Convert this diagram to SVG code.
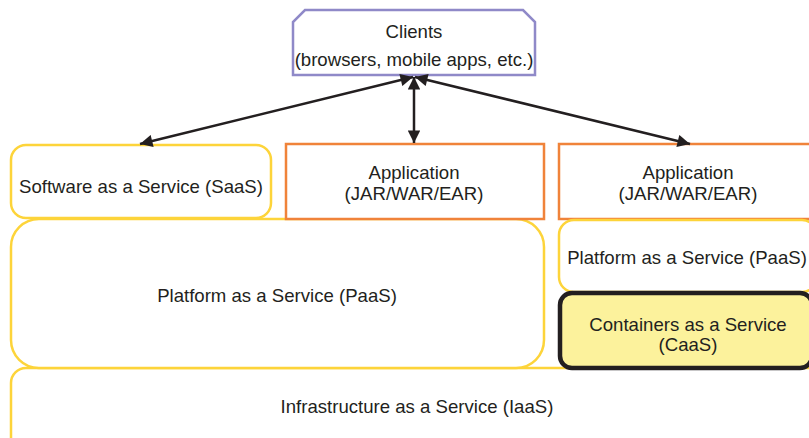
<svg xmlns="http://www.w3.org/2000/svg" width="809" height="438" viewBox="0 0 809 438">
  <style>
    .lbl { font-family: "Liberation Sans", Arial, sans-serif; font-size: 18.6px; fill: #231F20; text-anchor: middle; }
    .yel { fill: #FFFFFF; stroke: #FDD43A; stroke-width: 2.5; }
    .org { fill: #FFFFFF; stroke: #F0833A; stroke-width: 2.5; }
    .cli { fill: #FFFFFF; stroke: #8F89C8; stroke-width: 2.5; }
    .caas { fill: #FCF29C; stroke: #231F20; stroke-width: 4.5; }
    .conn { stroke: #231F20; stroke-width: 2.5; fill: none; marker-start: url(#ah); marker-end: url(#ah); }
  </style>
  <defs>
    <marker id="ah" viewBox="0 0 10 10" refX="10" refY="5" markerWidth="5.5" markerHeight="5" orient="auto-start-reverse" markerUnits="strokeWidth">
      <path d="M0,0 L10,5 L0,10 z" fill="#231F20"/>
    </marker>
  </defs>
  <rect width="809" height="438" fill="#FFFFFF"/>

  <!-- infrastructure layer -->
  <g id="iaas">
    <rect class="yel" x="11" y="368" width="812" height="90" rx="15"/>
    <text class="lbl" x="417" y="413">Infrastructure as a Service (IaaS)</text>
  </g>

  <!-- left stack -->
  <g id="paas-left">
    <rect class="yel" x="11" y="219" width="533" height="149" rx="28"/>
    <text class="lbl" x="277" y="302">Platform as a Service (PaaS)</text>
  </g>
  <g id="saas">
    <rect class="yel" x="11" y="145" width="260" height="73" rx="15"/>
    <text class="lbl" x="141" y="193">Software as a Service (SaaS)</text>
  </g>
  <g id="app-middle">
    <rect class="org" x="286" y="144" width="258" height="75"/>
    <text class="lbl" x="414" y="179">Application</text>
    <text class="lbl" x="414" y="200">(JAR/WAR/EAR)</text>
  </g>

  <!-- right stack -->
  <g id="app-right">
    <rect class="org" x="559" y="144" width="258" height="75"/>
    <text class="lbl" x="688" y="179">Application</text>
    <text class="lbl" x="688" y="200">(JAR/WAR/EAR)</text>
  </g>
  <g id="paas-right">
    <rect class="yel" x="559" y="220" width="258" height="72" rx="15"/>
    <text class="lbl" x="687" y="264">Platform as a Service (PaaS)</text>
  </g>
  <g id="caas">
    <rect class="caas" x="560" y="293" width="252" height="75" rx="12"/>
    <text class="lbl" x="688" y="331">Containers as a Service</text>
    <text class="lbl" x="688" y="351">(CaaS)</text>
  </g>

  <!-- clients -->
  <g id="clients">
    <path class="cli" d="M305,10 L523,10 L535,22 L535,75 L293,75 L293,22 Z"/>
    <text class="lbl" x="414" y="38">Clients</text>
    <text class="lbl" x="414" y="66">(browsers, mobile apps, etc.)</text>
  </g>

  <!-- connectors -->
  <g id="connectors">
    <line class="conn" x1="413" y1="77" x2="140" y2="144"/>
    <line class="conn" x1="414" y1="77" x2="414" y2="143"/>
    <line class="conn" x1="415" y1="77" x2="690" y2="144"/>
  </g>
</svg>
